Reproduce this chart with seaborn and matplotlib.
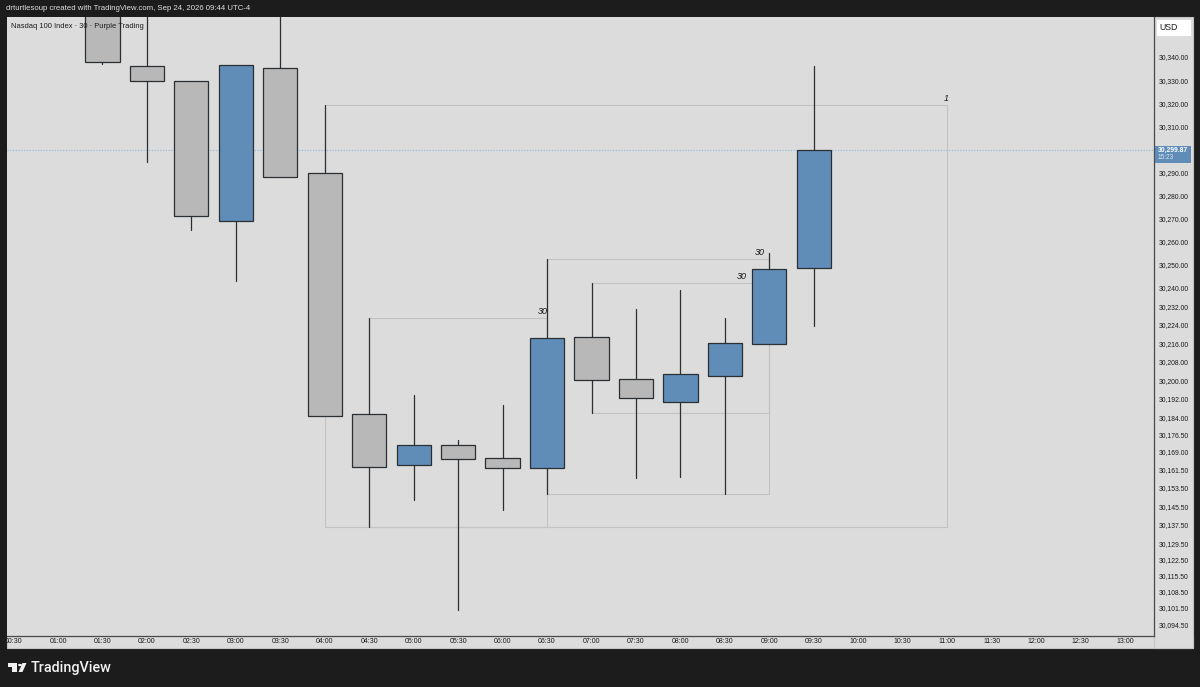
import numpy as np
import pandas as pd
import seaborn as sns
import matplotlib.pyplot as plt
from matplotlib.patches import Rectangle, Polygon, Circle
from matplotlib.transforms import Bbox

# Candles, in hours and price
times = [1.5, 2.0, 2.5, 3.0, 3.5, 4.0, 4.5, 5.0, 5.5, 6.0, 6.5, 7.0, 7.5, 8.0, 8.5, 9.0, 9.5]
opens = [30378.0, 30336.1, 30329.6, 30269.0, 30335.2, 30289.8, 30185.5, 30163.4, 30172.0, 30166.4,
         30162.1, 30218.8, 30200.6, 30190.6, 30201.9, 30215.8, 30248.7]
closes = [30337.8, 30329.6, 30271.2, 30336.5, 30288.1, 30184.6, 30162.5, 30172.0, 30166.0, 30162.1,
          30218.4, 30200.2, 30192.4, 30202.8, 30216.2, 30248.2, 30299.87]
highs = [30390.0, 30395.0, 30329.6, 30336.5, 30385.0, 30319.2, 30227.0, 30193.7, 30174.2, 30189.4,
         30252.6, 30242.2, 30230.9, 30239.1, 30227.0, 30255.2, 30336.1]
lows = [30337.0, 30294.5, 30265.1, 30243.0, 30288.1, 30184.6, 30136.5, 30148.2, 30100.6, 30143.9,
        30150.8, 30185.9, 30157.7, 30158.2, 30150.8, 30215.8, 30223.5]

# Drawn boxes and the interval label on each one
box_left = [4.0, 4.5, 6.5, 7.0]
box_right = [11.0, 6.5, 9.0, 9.0]
box_top = [30319.2, 30227.0, 30252.6, 30242.2]
box_bottom = [30136.5, 30136.5, 30150.8, 30185.9]
box_label = ['1', '30', '30', '30']
box_label_x = [10.986, 6.454, 8.895, 8.693]

last_price = 30299.87
countdown = '15:23'

price_ticks = [30340, 30330, 30320, 30310, 30290, 30280, 30270, 30260, 30250, 30240, 30232, 30224,
               30216, 30208, 30200, 30192, 30184, 30176.5, 30169, 30161.5, 30153.5, 30145.5,
               30137.5, 30129.5, 30122.5, 30115.5, 30108.5, 30101.5, 30094.5]
time_ticks = [0.5 + 0.5 * i for i in range(26)]
time_labels = ['{:02d}:{:02d}'.format(int(t), int(t * 60) % 60) for t in time_ticks]

BG = '#1c1c1c'
PANE = '#dcdcdc'
GRAY = '#b8b8b8'
BLUE = '#608db8'
EDGE = '#2b2f33'
INK = '#1a1a1a'

sns.set_theme(style='white')
plt.rcParams['font.family'] = ['Liberation Sans', 'DejaVu Sans']

W, H = 1200, 687
fig = plt.figure(figsize=(W / 100, H / 100), dpi=100, facecolor=BG)


def fx(x):
    return x / W


def fy(y):
    return 1 - y / H


def chrome(x0, y0, x1, y1, **kw):
    # pixel box measured from the top left of the picture
    p = Rectangle((fx(x0), fy(y1)), (x1 - x0) / W, (y1 - y0) / H, transform=fig.transFigure, **kw)
    fig.add_artist(p)
    return p


# outer strips behind the pane
chrome(7, 636, 1193, 648, fc=PANE, ec='#c4c4c4', lw=0.8, zorder=-2)
chrome(1154, 17, 1193, 648, fc=PANE, ec='#c4c4c4', lw=0.8, zorder=-2)

ax = fig.add_axes([fx(7), fy(636), 1147 / W, 619 / H], facecolor=PANE)

candles = pd.DataFrame({'time': times, 'open': opens, 'close': closes, 'high': highs, 'low': lows})
candles['candle'] = range(len(candles))
candles['top'] = candles[['open', 'close']].max(axis=1)
candles['bottom'] = candles[['open', 'close']].min(axis=1)
candles['size'] = candles['top'] - candles['bottom']

for l, r, t, b in zip(box_left, box_right, box_top, box_bottom):
    ax.add_patch(Rectangle((l, b), r - l, t - b, fc='none', ec='#c2c2c2', lw=0.8, zorder=0.5))

ax.axhline(last_price, color='#8fb4d6', lw=0.8, ls=(0, (1, 1.5)), zorder=0.6)

wicks = candles.melt(id_vars=['time', 'candle'], value_vars=['high', 'low'], value_name='price')
sns.lineplot(data=wicks, x='time', y='price', units='candle', estimator=None, color=EDGE, lw=0.9,
             legend=False, zorder=1, ax=ax)

for up, colour in [(False, GRAY), (True, BLUE)]:
    part = candles[(candles['close'] > candles['open']) == up]
    sns.barplot(data=part, x='time', y='size', native_scale=True, width=0.77, color=colour,
                saturation=1, errorbar=None, edgecolor=EDGE, linewidth=0.9,
                bottom=part['bottom'].to_numpy(), zorder=3, ax=ax)

for x, t, lab in zip(box_label_x, box_top, box_label):
    ax.annotate(lab, (x, t), xytext=(0, 1.5), textcoords='offset points', ha='center', va='bottom',
                fontsize=6.5, style='italic', color=INK, zorder=4)

ax.set_xlim(1 + (7 - 58) / 88.92, 1 + (1154 - 58) / 88.92)
ax.set_ylim(30340 - (636 - 57) / 2.31, 30340 + (57 - 17) / 2.31)
ax.set_xlabel('')
ax.set_ylabel('')
ax.yaxis.tick_right()
ax.set_yticks(price_ticks, ['{:,.2f}'.format(p) for p in price_ticks])
ax.set_xticks(time_ticks, time_labels)
ax.tick_params(axis='y', length=0, pad=3.4, labelsize=4.9, labelcolor=INK)
ax.tick_params(axis='x', length=0, pad=1.6, labelsize=5.0, labelcolor=INK)
clip = Bbox([[7, 0], [1154, H]])
for lab in ax.get_xticklabels():
    lab.set_clip_on(True)
    lab.set_clip_box(clip)
for side in ['top', 'left']:
    ax.spines[side].set_visible(False)
for side in ['right', 'bottom']:
    ax.spines[side].set_color('#4a4a4a')
    ax.spines[side].set_linewidth(0.9)

# USD box and last price tag on the price scale
chrome(1157, 20, 1191, 36, fc='white', ec='none', zorder=5)
fig.text(fx(1169), fy(28), 'USD', fontsize=6.3, color=INK, ha='center', va='center', zorder=6)
chrome(1155, 145.5, 1190.5, 162.5, fc=BLUE, ec='none', zorder=5)
fig.text(fx(1173), fy(150), '{:,.2f}'.format(last_price), fontsize=4.9, color='white', weight='bold',
         ha='center', va='center', zorder=6)
fig.text(fx(1165.5), fy(157.5), countdown, fontsize=4.7, color='#d8e4ef', ha='center', va='center', zorder=6)

# header texts
fig.text(fx(6), fy(9), 'drturtlesoup created with TradingView.com, Sep 24, 2026 09:44 UTC-4',
         fontsize=5.6, color='#e0e0e0', ha='left', va='center')
fig.text(fx(11), fy(26.5), 'Nasdaq 100 Index · 30 · Purple Trading', fontsize=5.45, color=INK,
         ha='left', va='center', zorder=6)

# TradingView logo
for pts in [[(8, 663), (17, 663), (17, 672), (12, 672), (12, 667), (8, 667)],
            [(22.5, 663), (26.5, 663), (22.5, 672), (18.5, 672)]]:
    fig.add_artist(Polygon([(fx(x), fy(y)) for x, y in pts], closed=True, transform=fig.transFigure,
                           fc='#f0f0f0', ec='none'))
fig.add_artist(Circle((fx(20), fy(665)), 2.0 / W, transform=fig.transFigure, fc='#f0f0f0', ec='none'))
fig.text(fx(31), fy(668), 'TradingView', fontsize=10.4, color='#f0f0f0', weight=500, ha='left',
         va='center', family=['Roboto', 'DejaVu Sans'])

fig.savefig('out.png', dpi=100, facecolor=BG)
